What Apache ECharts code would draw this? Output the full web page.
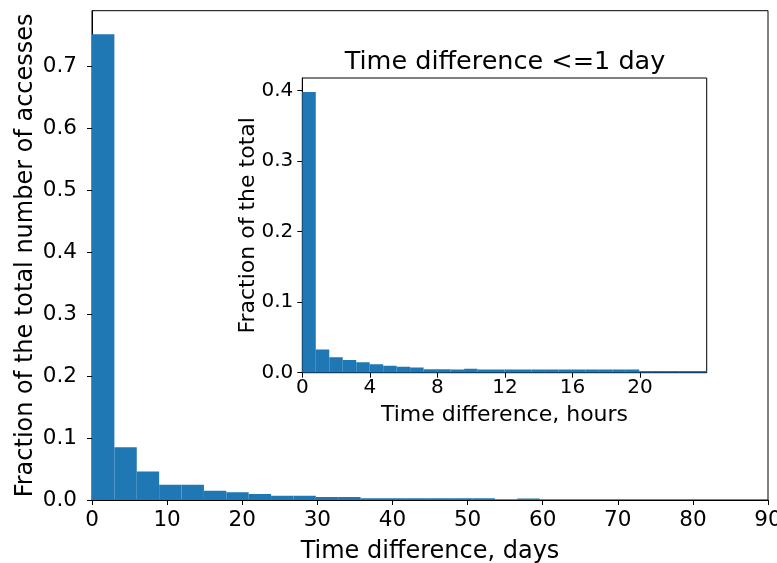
<!DOCTYPE html>
<html>
<head>
<meta charset="utf-8">
<script src="https://cdn.jsdelivr.net/npm/echarts@6/dist/echarts.min.js"></script>
<style>
  html, body { margin: 0; padding: 0; background: #fff; }
  #chart { width: 777px; height: 563px; }
</style>
</head>
<body>
<div id="chart"></div>
<script>
// ---- Main histogram: time difference in days ----
const dayBinWidth = 2.98;
const dayFractions = [0.752, 0.085, 0.046, 0.0247, 0.0247, 0.015, 0.0124, 0.0097, 0.007, 0.007,
                      0.0048, 0.0048, 0.0027, 0.0027, 0.0027, 0.0027, 0.0027, 0.0027, 0, 0.0024];
const dayTicks = [0, 10, 20, 30, 40, 50, 60, 70, 80, 90];
const mainYTicks = [0, 0.1, 0.2, 0.3, 0.4, 0.5, 0.6, 0.7];

// ---- Inset histogram: time difference <= 1 day, in hours ----
const hourBinWidth = 23.95 / 30;
const hourFractions = [0.398, 0.033, 0.022, 0.018, 0.0147, 0.012, 0.010, 0.0085, 0.0075, 0.005,
                       0.005, 0.0045, 0.0055, 0.0045, 0.0045, 0.0045, 0.0045, 0.0045, 0.0045, 0.0045,
                       0.0045, 0.0045, 0.0045, 0.0045, 0.0045, 0.0025, 0.0025, 0.0025, 0.0025, 0.0025];
const hourTicks = [0, 4, 8, 12, 16, 20];
const insetYTicks = [0, 0.1, 0.2, 0.3, 0.4];

const FONT = 'DejaVu Sans';
const BLUE = '#1f77b4';

function toBins(width, vals) {
  return vals.map((v, i) => [i * width, (i + 1) * width, v]);
}

function renderBar(params, api) {
  const x0 = api.value(0), x1 = api.value(1), y = api.value(2);
  const pTop = api.coord([x0, y]);
  const pBot = api.coord([x1, 0]);
  return {
    type: 'rect',
    shape: { x: pTop[0], y: pTop[1], width: pBot[0] - pTop[0], height: pBot[1] - pTop[1] },
    style: { fill: BLUE }
  };
}

function axisCommon(fontSize, ticks, fmt, margin) {
  return {
    nameMoveOverlap: false,
    axisLine: { show: true, onZero: false, lineStyle: { color: '#000', width: 1 } },
    axisTick: { show: true, length: 5, lineStyle: { color: '#000', width: 1 }, customValues: ticks },
    axisLabel: { color: '#000', fontFamily: FONT, fontSize: fontSize, margin: margin, customValues: ticks, formatter: fmt },
    splitLine: { show: false },
    nameTextStyle: { color: '#000', fontFamily: FONT }
  };
}

const chart = echarts.init(document.getElementById('chart'), null, { renderer: 'canvas' });

const option = {
  animation: false,
  backgroundColor: '#fff',
  grid: [
    { left: 92, right: 9, top: 10.7, bottom: 63, show: true, borderColor: '#000', borderWidth: 1,
      backgroundColor: 'transparent', containLabel: false, outerBoundsMode: 'none' },
    { left: 302.3, right: 70.3, top: 78, bottom: 190.3, show: true, borderColor: '#000', borderWidth: 1,
      backgroundColor: '#fff', containLabel: false, outerBoundsMode: 'none' }
  ],
  xAxis: [
    Object.assign(axisCommon(21.5, dayTicks, v => String(v), 9), {
      type: 'value', gridIndex: 0, min: 0, max: 90,
      name: 'Time difference, days', nameLocation: 'middle', nameGap: 39.5,
      nameTextStyle: { color: '#000', fontFamily: FONT, fontSize: 24 }
    }),
    Object.assign(axisCommon(20, hourTicks, v => String(v), 5), {
      type: 'value', gridIndex: 1, min: 0, max: 23.95,
      name: 'Time difference, hours', nameLocation: 'middle', nameGap: 32,
      nameTextStyle: { color: '#000', fontFamily: FONT, fontSize: 22 }
    })
  ],
  yAxis: [
    Object.assign(axisCommon(21.5, mainYTicks, v => v.toFixed(1), 15), {
      type: 'value', gridIndex: 0, min: 0, max: 0.79,
      name: 'Fraction of the total number of accesses', nameLocation: 'middle', nameGap: 54,
      nameTextStyle: { color: '#000', fontFamily: FONT, fontSize: 24 }
    }),
    Object.assign(axisCommon(20, insetYTicks, v => v.toFixed(1), 9), {
      type: 'value', gridIndex: 1, min: 0, max: 0.418,
      name: 'Fraction of the total', nameLocation: 'middle', nameGap: 43,
      nameTextStyle: { color: '#000', fontFamily: FONT, fontSize: 22 }
    })
  ],
  graphic: [
    {
      type: 'text', x: 505, y: 62, z: 10,
      style: { text: 'Time difference <=1 day', textAlign: 'center', textVerticalAlign: 'middle',
               font: '25.5px "DejaVu Sans"', fill: '#000' }
    }
  ],
  series: [
    { type: 'custom', xAxisIndex: 0, yAxisIndex: 0, renderItem: renderBar, data: toBins(dayBinWidth, dayFractions), clip: true },
    { type: 'custom', xAxisIndex: 1, yAxisIndex: 1, renderItem: renderBar, data: toBins(hourBinWidth, hourFractions), clip: true }
  ]
};

chart.setOption(option);
</script>
</body>
</html>
